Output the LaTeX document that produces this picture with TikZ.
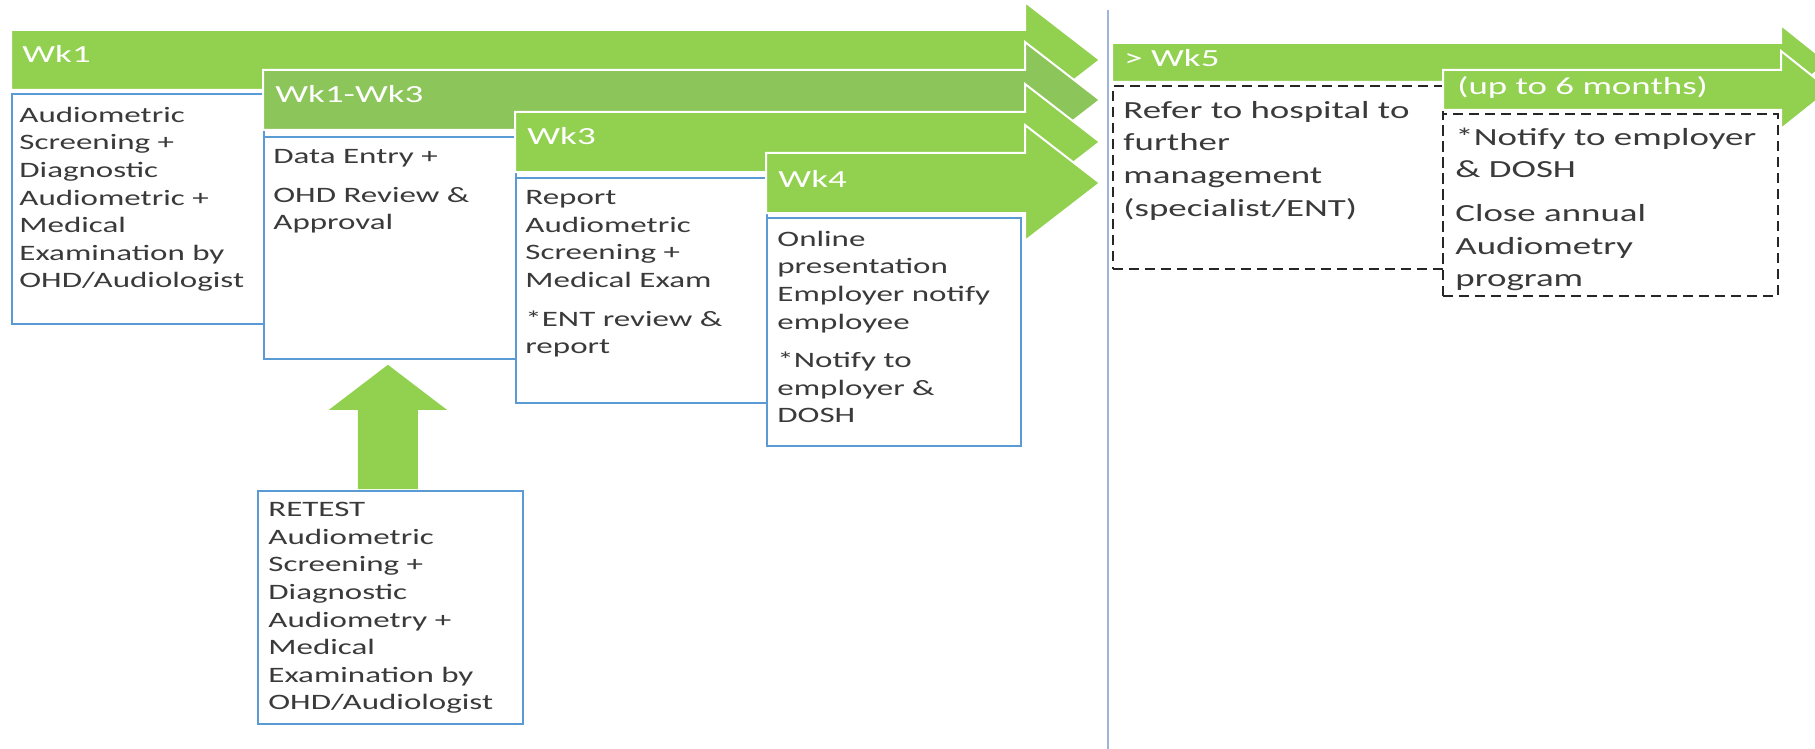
\documentclass[tikz,border=0pt]{standalone}
\usepackage{fontspec}
\setmainfont{Carlito}[FakeStretch=1.5]
\usetikzlibrary{calc}
\definecolor{grn}{HTML}{92D050}
\definecolor{grntwo}{HTML}{8CC55A}
\definecolor{bxblue}{HTML}{5B9BD5}
\definecolor{txtgrey}{HTML}{3A3A3A}
\definecolor{vlinecol}{HTML}{9DB4DE}
\newcommand{\mylbf}{\fontsize{11pt}{13.8pt}\selectfont}
\newcommand{\myrbf}{\fontsize{12.3pt}{16.3pt}\selectfont}
\newcommand{\mylabfont}{\fontsize{12.3pt}{14pt}\selectfont}
\begin{document}
\begin{tikzpicture}[x=0.5pt,y=-0.5pt,
  bar/.style={fill=grn, draw=white, line width=1pt, line join=miter},
  barlabel/.style={anchor=base west, inner sep=0, text=white, font=\mylabfont},
  blbox/.style={draw=bxblue, line width=0.9pt, fill=white, anchor=north west, inner sep=0},
  dbox/.style={draw=black!85, dash pattern=on 5pt off 3pt, line width=0.8pt, anchor=north west, inner sep=0},
  ltext/.style={anchor=north west, inner sep=0, align=left, text=txtgrey, font=\mylbf},
  rtext/.style={anchor=north west, inner sep=0, align=left, text=txtgrey, font=\myrbf},
  blockarrow/.style={fill=grn},
]
\useasboundingbox (0,0) rectangle (1815,749);
\clip (0,0) rectangle (1815,749);

% Wk1
\filldraw[bar] (11,30) -- (1025,30) -- (1025,2) -- (1100,60) -- (1025,118) -- (1025,90) -- (11,90) -- cycle;
\node[barlabel] (l1) at (22,63) {Wk1};
\node[blbox, minimum width=126pt, minimum height=115pt] (box1) at (11,93) {};
\node[ltext] (t1) at ([shift={(8,9.5)}]box1.north west) {\strut Audiometric\\Screening +\\Diagnostic\\Audiometric +\\Medical\\Examination by\\OHD/Audiologist};

% Wk1-Wk3
\filldraw[bar, fill=grntwo] (263,70) -- (1025,70) -- (1025,42) -- (1100,100) -- (1025,158) -- (1025,130) -- (263,130) -- cycle;
\node[barlabel] (l2) at (275,103) {Wk1-Wk3};
\node[blbox, minimum width=126pt, minimum height=111pt] (box2) at (263,136) {};
\node[ltext] (t2) at ([shift={(10,8)}]box2.north west) {\strut Data Entry +\\[5.5pt]OHD Review \&\\Approval};

% Wk3
\filldraw[bar] (515,112) -- (1025,112) -- (1025,84) -- (1100,142) -- (1025,200) -- (1025,172) -- (515,172) -- cycle;
\node[barlabel] (l3) at (527,145) {Wk3};
\node[blbox, minimum width=125.5pt, minimum height=112.5pt] (box3) at (515,177) {};
\node[ltext] (t3) at ([shift={(10,8)}]box3.north west) {\strut Report\\Audiometric\\Screening +\\Medical Exam\\[5.5pt]*ENT review \&\\report};

% Wk4
\filldraw[bar] (766,153) -- (1025,153) -- (1025,125) -- (1100,183) -- (1025,241) -- (1025,213) -- (766,213) -- cycle;
\node[barlabel] (l4) at (778,187) {Wk4};
\node[blbox, minimum width=127pt, minimum height=114pt] (box4) at (766,217) {};
\node[ltext] (t4) at ([shift={(11,9.5)}]box4.north west) {\strut Online\\presentation\\Employer notify\\employee\\[5.5pt]*Notify to\\employer \&\\DOSH};

% Retest
\node[blbox, minimum width=132.5pt, minimum height=116.5pt] (retest) at (257,490) {};
\node[ltext] (t5) at ([shift={(11,7)}]retest.north west) {\strut RETEST\\Audiometric\\Screening +\\Diagnostic\\Audiometry +\\Medical\\Examination by\\OHD/Audiologist};
% block arrow from retest up to box2
\coordinate (upbase) at ($(retest.north)+(-2.5,-1)$);
\coordinate (uptip) at (upbase |- {$(box2.south)+(0,5)$});
\fill[blockarrow] ($(upbase)+(-30,0)$) -- ($(upbase)+(30,0)$) -- ($(uptip)+(30,45)$) -- ($(uptip)+(59,45)$)
  -- (uptip) -- ($(uptip)+(-59,45)$) -- ($(uptip)+(-30,45)$) -- cycle;

% divider
\draw[vlinecol, line width=1pt] (1108,10) -- (1108,749);

% > Wk5
\filldraw[bar] (1112,43) -- (1781,43) -- (1781,25) -- (1828,62.5) -- (1781,100) -- (1781,82) -- (1112,82) -- cycle;
\node[barlabel] (l5) at (1124,67) {> Wk5};
\node[dbox, minimum width=165pt, minimum height=91.5pt] (d1) at (1112,85) {};
\node[rtext] (t6) at ([shift={(11,10)}]d1.north west) {\strut Refer to hospital to\\further\\management\\(specialist/ENT)};

% up to 6 months
\filldraw[bar] (1443,70) -- (1781,70) -- (1781,51) -- (1830,90) -- (1781,129) -- (1781,110) -- (1443,110) -- cycle;
\node[barlabel] (l6) at (1457,95) {(up to 6 months)};
\node[dbox, minimum width=167.5pt, minimum height=91pt] (d2) at (1442,113) {};
\node[rtext] (t7) at ([shift={(13,9)}]d2.north west) {\strut *Notify to employer\\\& DOSH\\[5.5pt]Close annual\\Audiometry\\program};
\end{tikzpicture}
\end{document}
